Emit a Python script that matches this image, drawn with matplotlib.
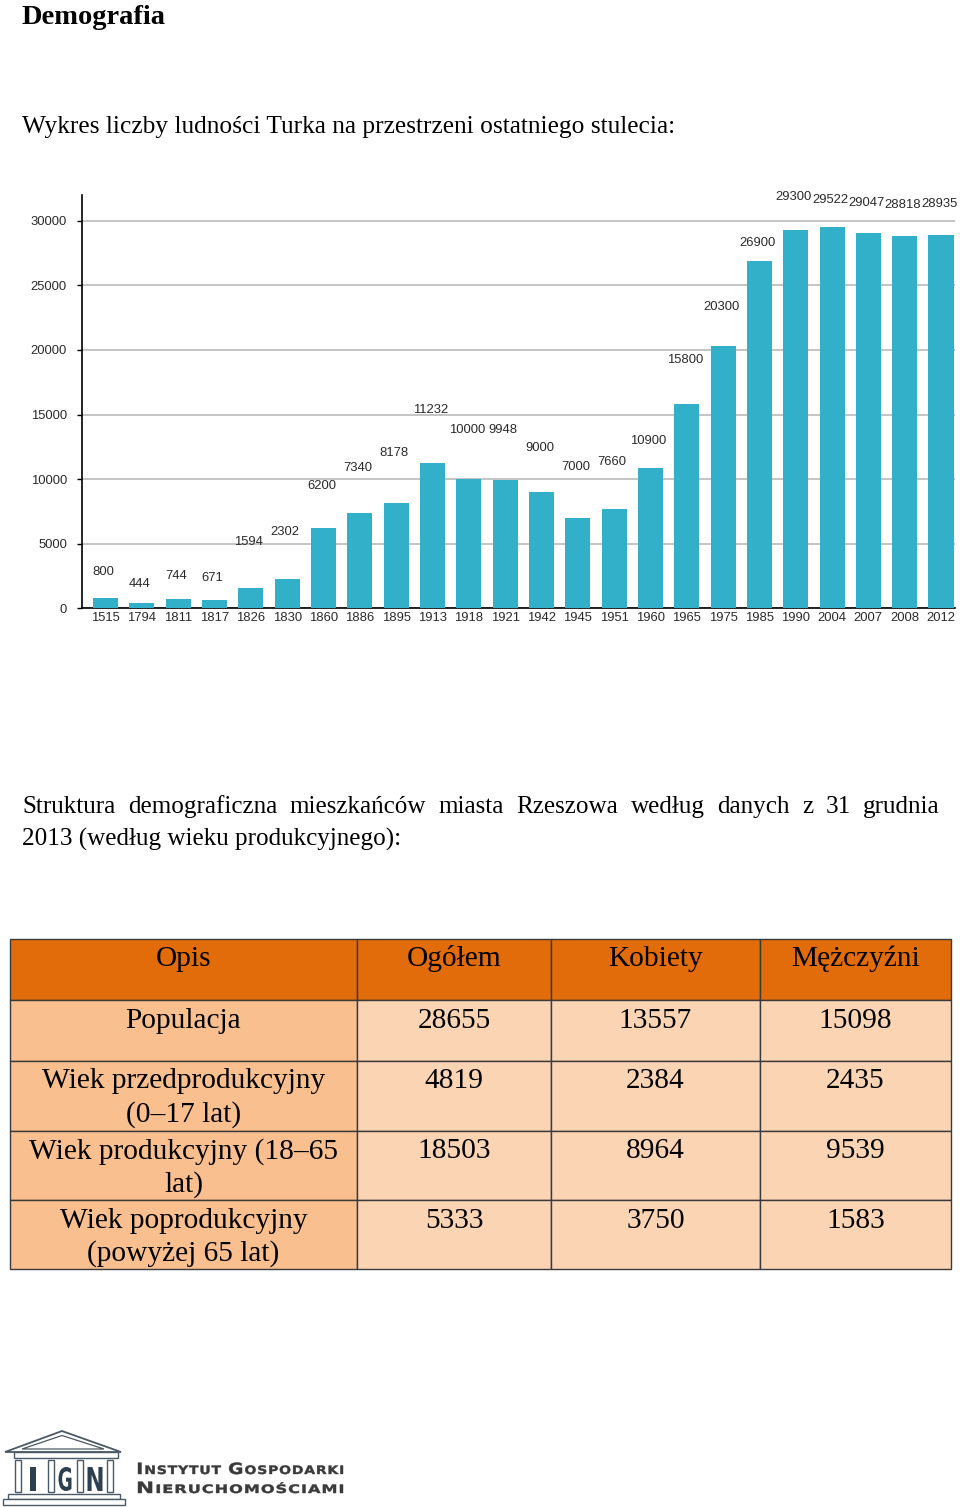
import matplotlib
matplotlib.use("Agg")
import matplotlib.pyplot as plt
from matplotlib.patches import Rectangle, Polygon, PathPatch
from matplotlib.textpath import TextPath, TextToPath
from matplotlib.font_manager import FontProperties
from matplotlib.transforms import Affine2D
from matplotlib.path import Path
import numpy as np

# ---------------- data ----------------
years = ["1515", "1794", "1811", "1817", "1826", "1830", "1860", "1886", "1895",
         "1913", "1918", "1921", "1942", "1945", "1951", "1960", "1965", "1975",
         "1985", "1990", "2004", "2007", "2008", "2012"]
population = [800, 444, 744, 671, 1594, 2302, 6200, 7340, 8178,
              11232, 10000, 9948, 9000, 7000, 7660, 10900, 15800, 20300,
              26900, 29300, 29522, 29047, 28818, 28935]
y_ticks = [0, 5000, 10000, 15000, 20000, 25000, 30000]

table_header = ["Opis", "Ogółem", "Kobiety", "Mężczyźni"]
row_labels = ["Populacja",
              "Wiek przedprodukcyjny\n(0–17 lat)",
              "Wiek produkcyjny (18–65\nlat)",
              "Wiek poprodukcyjny\n(powyżej 65 lat)"]
total = [28655, 4819, 18503, 5333]
women = [13557, 2384, 8964, 3750]
men = [15098, 2435, 9539, 1583]

title_text = "Demografia"
intro_text = "Wykres liczby ludności Turka na przestrzeni ostatniego stulecia:"
para_line1 = "Struktura demograficzna mieszkańców miasta Rzeszowa według danych z 31 grudnia"
para_line2 = "2013 (według wieku produkcyjnego):"
logo_line1 = "INSTYTUT GOSPODARKI"
logo_line2 = "NIERUCHOMOŚCIAMI"

# ---------------- layout (pixels) ----------------
label_offsets_px = [26, 19, 23, 22, 46, 47, 42, 45, 50, 53, 49, 50, 44, 51, 47,
                    27, 44, 39, 18, 33, 27, 30, 31, 31]
W, H, DPI = 960, 1507, 100
col_edges = [10, 357, 551, 760, 951]
row_edges = [939, 1000, 1061, 1131, 1200, 1269]

serif = ["Liberation Serif", "DejaVu Serif"]
sans = ["Liberation Sans", "DejaVu Sans"]
body_fs = 18.1

fig = plt.figure(figsize=(W / DPI, H / DPI), dpi=DPI)
fig.patch.set_facecolor("white")

# page axes in pixel coordinates
page = fig.add_axes([0, 0, 1, 1], zorder=0)
page.set_xlim(0, W)
page.set_ylim(H, 0)
page.axis("off")

page.text(22, 24, title_text, family=serif, fontsize=20.5, fontweight="bold",
          va="baseline", ha="left", color="black")
page.text(22, 133, intro_text, family=serif, fontsize=18.3,
          va="baseline", ha="left", color="black")

# justified first paragraph line
renderer = fig.canvas.get_renderer()
words = para_line1.split(" ")
word_artists = []
widths = []
for w_ in words:
    t = page.text(0, 813, w_, family=serif, fontsize=body_fs, va="baseline",
                  ha="left", color="black")
    bb = t.get_window_extent(renderer)
    word_artists.append(t)
    widths.append(bb.width)
x_left, x_right = 22, 940
gap = (x_right - x_left - sum(widths)) / (len(words) - 1)
xpos = x_left
for t, wd in zip(word_artists, widths):
    t.set_x(xpos)
    xpos += wd + gap
page.text(22, 846, para_line2, family=serif, fontsize=body_fs,
          va="baseline", ha="left", color="black")

# ---------------- bar chart ----------------
ax_left, ax_right, ax_top, ax_bottom = 81.7, 955, 195, 608.3
ax = fig.add_axes([ax_left / W, 1 - ax_bottom / H, (ax_right - ax_left) / W,
                   (ax_bottom - ax_top) / H], zorder=2)
ax.patch.set_alpha(0)
x = np.arange(len(years))
ax.bar(x, population, width=0.69, color="#33b0c9", zorder=3)
ax.set_xlim(-0.655, 23.385)
ax.set_ylim(0, 32000)
ax.set_yticks(y_ticks)
ax.set_yticklabels([str(v) for v in y_ticks])
ax.set_xticks(x)
ax.set_xticklabels(years)
for lab in ax.get_xticklabels() + ax.get_yticklabels():
    lab.set_family(sans)
    lab.set_fontsize(9.4)
    lab.set_color("#2a2a2a")
ax.yaxis.grid(True, color="#b4b4b4", lw=1.1, zorder=0)
ax.set_axisbelow(True)
for s in ["top", "right"]:
    ax.spines[s].set_visible(False)
ax.spines["left"].set_color("black")
ax.spines["left"].set_linewidth(1.2)
ax.spines["bottom"].set_color("black")
ax.spines["bottom"].set_linewidth(1.2)
ax.tick_params(axis="y", length=3.6, width=1, color="black", pad=7)
ax.tick_params(axis="x", length=0, pad=3)

for xi, val, off in zip(x, population, label_offsets_px):
    ax.annotate(str(val), (xi, val), xytext=(-2, off), textcoords="offset pixels",
                ha="center", va="center", family=sans, fontsize=9.4,
                color="#2a2a2a", annotation_clip=False)

# ---------------- table ----------------
header_color = "#e36c0a"
first_col_color = "#fabf8f"
body_color = "#fbd4b4"
line_color = "#3a3a3a"
table_fs = 21.2
line_gap = 33

rows = [[lbl, str(a), str(b), str(c)] for lbl, a, b, c in zip(row_labels, total, women, men)]
all_rows = [table_header] + rows
for ri, row in enumerate(all_rows):
    y0, y1 = row_edges[ri], row_edges[ri + 1]
    for ci, txt in enumerate(row):
        x0, x1 = col_edges[ci], col_edges[ci + 1]
        if ri == 0:
            fc = header_color
        elif ci == 0:
            fc = first_col_color
        else:
            fc = body_color
        page.add_patch(Rectangle((x0, y0), x1 - x0, y1 - y0, facecolor=fc,
                                 edgecolor=line_color, lw=1.0, zorder=1))
        for li, part in enumerate(txt.split("\n")):
            page.text((x0 + x1) / 2, y0 + 27.5 + li * line_gap, part,
                      family=serif, fontsize=table_fs, ha="center",
                      va="baseline", color="black", zorder=3)

# ---------------- logo ----------------
logo_edge = "#4b5866"
page.add_patch(Polygon([(5, 1452), (62, 1431), (121, 1452)], closed=True,
                       facecolor="white", edgecolor=logo_edge, lw=1.3, zorder=2))
page.add_patch(Polygon([(22, 1449), (62, 1435.5), (104, 1449)], closed=True,
                       facecolor="none", edgecolor=logo_edge, lw=0.9, zorder=2))
page.add_patch(Rectangle((14, 1452), 104, 5.5, facecolor="white",
                         edgecolor=logo_edge, lw=1.0, zorder=2))
for cx in [15, 48, 77, 107]:
    page.add_patch(Rectangle((cx, 1460), 6, 32, facecolor="white",
                             edgecolor=logo_edge, lw=1.0, zorder=2))
page.add_patch(Rectangle((8, 1494), 112, 4.5, facecolor="white",
                         edgecolor=logo_edge, lw=1.0, zorder=2))
page.add_patch(Rectangle((3, 1499), 122, 6, facecolor="white",
                         edgecolor=logo_edge, lw=1.0, zorder=2))

bold_prop = FontProperties(family="DejaVu Sans", weight="bold")
letter_color = "#2e3f4f"
for letter, cx, wd in [("I", 33, 6), ("G", 65, 13), ("N", 95, 15)]:
    tp = TextPath((0, 0), letter, size=10, prop=bold_prop)
    ext = tp.get_extents()
    sx = wd / ext.width
    sy = 24 / ext.height
    tr = Affine2D().translate(-ext.x0 - ext.width / 2, -ext.y0).scale(sx, -sy).translate(cx, 1491)
    page.add_patch(PathPatch(tr.transform_path(tp), facecolor=letter_color,
                             edgecolor="none", zorder=3))


def smallcaps_path(text, big, small, prop, spacing=0.06):
    t2p = TextToPath()
    verts, codes = [], []
    xoff = 0.0
    for wi, word in enumerate(text.split(" ")):
        if wi > 0:
            xoff += small * 0.45
        for k, ch in enumerate(word):
            size = big if k == 0 else small
            p = TextPath((xoff, 0), ch, size=size, prop=prop)
            verts.append(p.vertices)
            codes.append(p.codes)
            fp = prop.copy()
            fp.set_size(size)
            adv = t2p.get_text_width_height_descent(ch, fp, ismath=False)[0]
            xoff += adv + size * spacing
    return Path(np.concatenate(verts), np.concatenate(codes))


logo_text_color = "#3a3a3a"
big_cap = TextPath((0, 0), "I", size=14, prop=bold_prop).get_extents().height
for txt, baseline in [(logo_line1, 1474), (logo_line2, 1493)]:
    pth = smallcaps_path(txt, 14, 10.5, bold_prop)
    ext = pth.get_extents()
    sx = (343 - 138) / ext.width
    sy = 11.3 / big_cap
    tr = Affine2D().translate(-ext.x0, 0).scale(sx, -sy).translate(138, baseline)
    page.add_patch(PathPatch(tr.transform_path(pth), facecolor=logo_text_color,
                             edgecolor=logo_text_color, lw=0.3, zorder=3))

fig.savefig("out.png", dpi=DPI, facecolor="white")
